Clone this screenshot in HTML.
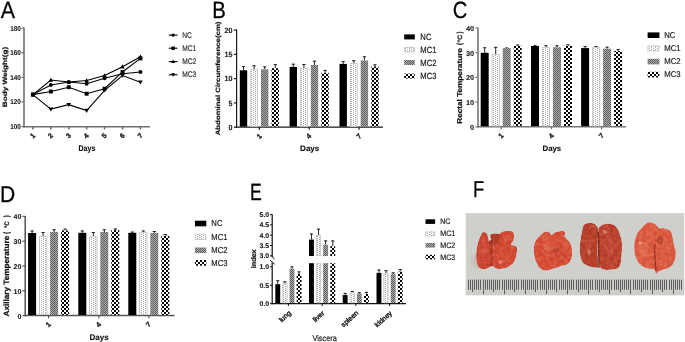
<!DOCTYPE html>
<html><head><meta charset="utf-8"><style>
html,body{margin:0;padding:0;background:#fff;width:685px;height:342px;overflow:hidden}
svg{display:block;-webkit-font-smoothing:antialiased;will-change:transform;text-rendering:geometricPrecision}
</style></head><body>
<svg width="685" height="342" viewBox="0 0 685 342">
<defs>
<filter id="soft" x="-5%" y="-5%" width="110%" height="110%"><feGaussianBlur in="SourceGraphic" stdDeviation="0.5" result="b"/>
<feTurbulence type="fractalNoise" baseFrequency="0.28" numOctaves="2" seed="5" result="n"/>
<feColorMatrix in="n" type="matrix" values="1 0 0 0 0  1 0 0 0 0  1 0 0 0 0  0 0 0 0 1" result="g"/>
<feComponentTransfer in="g" result="g2"><feFuncR type="linear" slope="0.5" intercept="0.26"/><feFuncG type="linear" slope="0.5" intercept="0.26"/><feFuncB type="linear" slope="0.5" intercept="0.26"/></feComponentTransfer>
<feBlend in="g2" in2="b" mode="soft-light" result="m"/>
<feComposite in="m" in2="b" operator="in"/></filter>
<filter id="blur2" x="-50%" y="-50%" width="200%" height="200%"><feGaussianBlur stdDeviation="2.5"/></filter>
<pattern id="p1" width="4" height="2" patternUnits="userSpaceOnUse">
<rect width="4" height="2" fill="#fff"/>
<rect x="1" y="0" width="1" height="1" fill="#a4a4a4"/>
<rect x="3" y="1" width="1" height="1" fill="#a4a4a4"/>
</pattern>
<pattern id="p2" width="2" height="2" patternUnits="userSpaceOnUse">
<rect width="2" height="2" fill="#acacac"/>
<rect x="0" y="0" width="1" height="1" fill="#5e5e5e"/>
<rect x="1" y="1" width="1" height="1" fill="#5e5e5e"/>
</pattern>
<pattern id="p3" width="4" height="4" patternUnits="userSpaceOnUse">
<rect width="4" height="4" fill="#fff"/>
<rect x="0" y="0" width="2" height="2" fill="#000"/>
<rect x="2" y="2" width="2" height="2" fill="#000"/>
</pattern>
</defs>
<rect width="685" height="342" fill="#fff"/>
<g font-family='"Liberation Sans", sans-serif'>
<text transform="translate(0.66 18) scale(0.911 1)" font-size="23.5" fill="#000" stroke="#000" stroke-width="0.25">A</text>
<text transform="translate(212.33 18) scale(0.864 1)" font-size="23.5" fill="#000" stroke="#000" stroke-width="0.25">B</text>
<text transform="translate(452.87 18) scale(0.86 1)" font-size="23.5" fill="#000" stroke="#000" stroke-width="0.25">C</text>
<text transform="translate(-0.03 202) scale(0.924 1)" font-size="22.8" fill="#000" stroke="#000" stroke-width="0.25">D</text>
<text transform="translate(250.0 200) scale(0.75 1)" font-size="23.5" fill="#000" stroke="#000" stroke-width="0.25">E</text>
<text transform="translate(472.9 197) scale(0.8 1)" font-size="23" fill="#000" stroke="#000" stroke-width="0.25">F</text>
<line x1="24.00" y1="27.50" x2="24.00" y2="127.40" stroke="#707070" stroke-width="1.6"/>
<line x1="23.20" y1="126.80" x2="150.00" y2="126.80" stroke="#707070" stroke-width="1.6"/>
<line x1="21.50" y1="126.60" x2="24.00" y2="126.60" stroke="#707070" stroke-width="1.3"/>
<text transform="translate(10.23 129) scale(0.910 1)" font-size="7.00" font-weight="bold" fill="#222" stroke="#222" stroke-width="0.12">100</text>
<line x1="21.50" y1="101.98" x2="24.00" y2="101.98" stroke="#707070" stroke-width="1.3"/>
<text transform="translate(10.23 104) scale(0.910 1)" font-size="7.00" font-weight="bold" fill="#222" stroke="#222" stroke-width="0.12">120</text>
<line x1="21.50" y1="77.36" x2="24.00" y2="77.36" stroke="#707070" stroke-width="1.3"/>
<text transform="translate(10.23 80) scale(0.910 1)" font-size="7.00" font-weight="bold" fill="#222" stroke="#222" stroke-width="0.12">140</text>
<line x1="21.50" y1="52.74" x2="24.00" y2="52.74" stroke="#707070" stroke-width="1.3"/>
<text transform="translate(10.23 55) scale(0.910 1)" font-size="7.00" font-weight="bold" fill="#222" stroke="#222" stroke-width="0.12">160</text>
<line x1="21.50" y1="28.12" x2="24.00" y2="28.12" stroke="#707070" stroke-width="1.3"/>
<text transform="translate(10.23 31) scale(0.910 1)" font-size="7.00" font-weight="bold" fill="#222" stroke="#222" stroke-width="0.12">180</text>
<line x1="32.90" y1="126.60" x2="32.90" y2="129.40" stroke="#707070" stroke-width="1.6"/>
<text transform="translate(35.50 136.20) rotate(-45) translate(-3.70 0)" font-size="7.00" font-weight="bold" fill="#222" stroke="#222" stroke-width="0.35">1</text>
<line x1="50.82" y1="126.60" x2="50.82" y2="129.40" stroke="#707070" stroke-width="1.6"/>
<text transform="translate(53.42 136.20) rotate(-45) translate(-3.61 0)" font-size="7.00" font-weight="bold" fill="#222" stroke="#222" stroke-width="0.35">2</text>
<line x1="68.74" y1="126.60" x2="68.74" y2="129.40" stroke="#707070" stroke-width="1.6"/>
<text transform="translate(71.34 136.20) rotate(-45) translate(-3.64 0)" font-size="7.00" font-weight="bold" fill="#222" stroke="#222" stroke-width="0.35">3</text>
<line x1="86.66" y1="126.60" x2="86.66" y2="129.40" stroke="#707070" stroke-width="1.6"/>
<text transform="translate(89.26 136.20) rotate(-45) translate(-3.85 0)" font-size="7.00" font-weight="bold" fill="#222" stroke="#222" stroke-width="0.35">4</text>
<line x1="104.58" y1="126.60" x2="104.58" y2="129.40" stroke="#707070" stroke-width="1.6"/>
<text transform="translate(107.18 136.20) rotate(-45) translate(-3.70 0)" font-size="7.00" font-weight="bold" fill="#222" stroke="#222" stroke-width="0.35">5</text>
<line x1="122.50" y1="126.60" x2="122.50" y2="129.40" stroke="#707070" stroke-width="1.6"/>
<text transform="translate(125.10 136.20) rotate(-45) translate(-3.64 0)" font-size="7.00" font-weight="bold" fill="#222" stroke="#222" stroke-width="0.35">6</text>
<line x1="140.42" y1="126.60" x2="140.42" y2="129.40" stroke="#707070" stroke-width="1.6"/>
<text transform="translate(143.02 136.20) rotate(-45) translate(-3.58 0)" font-size="7.00" font-weight="bold" fill="#222" stroke="#222" stroke-width="0.35">7</text>
<text transform="translate(6.86 107.24) rotate(-90) scale(1 0.766)" font-size="8.23" font-weight="bold" fill="#111" stroke="#111" stroke-width="0.25">Body Weight(g)</text>
<text transform="translate(78.53 151) scale(0.851 1)" font-size="8.28" font-weight="bold" fill="#111" stroke="#111" stroke-width="0.12">Days</text>
<polyline points="32.90,94.59 50.82,84.99 68.74,82.04 86.66,83.76 104.58,78.22 122.50,73.67 140.42,71.94" fill="none" stroke="#000" stroke-width="1.1"/>
<polyline points="32.90,94.59 50.82,91.52 68.74,87.21 86.66,93.73 104.58,88.69 122.50,71.94 140.42,58.40" fill="none" stroke="#000" stroke-width="1.1"/>
<polyline points="32.90,94.59 50.82,79.95 68.74,82.04 86.66,80.56 104.58,75.51 122.50,66.65 140.42,56.68" fill="none" stroke="#000" stroke-width="1.1"/>
<polyline points="32.90,94.59 50.82,109.12 68.74,104.69 86.66,110.60 104.58,90.29 122.50,75.51 140.42,82.28" fill="none" stroke="#000" stroke-width="1.1"/>
<circle cx="32.90" cy="94.59" r="1.95" fill="#000"/>
<circle cx="50.82" cy="84.99" r="1.95" fill="#000"/>
<circle cx="68.74" cy="82.04" r="1.95" fill="#000"/>
<circle cx="86.66" cy="83.76" r="1.95" fill="#000"/>
<circle cx="104.58" cy="78.22" r="1.95" fill="#000"/>
<circle cx="122.50" cy="73.67" r="1.95" fill="#000"/>
<circle cx="140.42" cy="71.94" r="1.95" fill="#000"/>
<rect x="30.95" y="92.64" width="3.91" height="3.91" fill="#000"/>
<rect x="48.87" y="89.56" width="3.91" height="3.91" fill="#000"/>
<rect x="66.79" y="85.25" width="3.91" height="3.91" fill="#000"/>
<rect x="84.70" y="91.78" width="3.91" height="3.91" fill="#000"/>
<rect x="102.63" y="86.73" width="3.91" height="3.91" fill="#000"/>
<rect x="120.55" y="69.99" width="3.91" height="3.91" fill="#000"/>
<rect x="138.47" y="56.45" width="3.91" height="3.91" fill="#000"/>
<polygon points="32.90,92.29 30.60,96.32 35.20,96.32" fill="#000"/>
<polygon points="50.82,77.65 48.52,81.67 53.12,81.67" fill="#000"/>
<polygon points="68.74,79.74 66.44,83.76 71.04,83.76" fill="#000"/>
<polygon points="86.66,78.26 84.36,82.29 88.96,82.29" fill="#000"/>
<polygon points="104.58,73.21 102.28,77.24 106.88,77.24" fill="#000"/>
<polygon points="122.50,64.35 120.20,68.38 124.80,68.38" fill="#000"/>
<polygon points="140.42,54.38 138.12,58.40 142.72,58.40" fill="#000"/>
<polygon points="32.90,96.89 30.60,92.87 35.20,92.87" fill="#000"/>
<polygon points="50.82,111.42 48.52,107.39 53.12,107.39" fill="#000"/>
<polygon points="68.74,106.99 66.44,102.96 71.04,102.96" fill="#000"/>
<polygon points="86.66,112.90 84.36,108.87 88.96,108.87" fill="#000"/>
<polygon points="104.58,92.59 102.28,88.56 106.88,88.56" fill="#000"/>
<polygon points="122.50,77.81 120.20,73.79 124.80,73.79" fill="#000"/>
<polygon points="140.42,84.58 138.12,80.56 142.72,80.56" fill="#000"/>
<line x1="168.80" y1="35.10" x2="177.50" y2="35.10" stroke="#000" stroke-width="1.1"/>
<circle cx="173.10" cy="35.10" r="1.70" fill="#000"/>
<text transform="translate(182.25 38) scale(0.815 1)" font-size="8.17" font-weight="normal" fill="#333" stroke="#333" stroke-width="0.2">NC</text>
<line x1="168.80" y1="48.20" x2="177.50" y2="48.20" stroke="#000" stroke-width="1.1"/>
<rect x="171.40" y="46.50" width="3.40" height="3.40" fill="#000"/>
<text transform="translate(182.25 51) scale(0.815 1)" font-size="8.17" font-weight="normal" fill="#333" stroke="#333" stroke-width="0.2">MC1</text>
<line x1="168.80" y1="61.60" x2="177.50" y2="61.60" stroke="#000" stroke-width="1.1"/>
<polygon points="173.10,59.60 171.10,63.10 175.10,63.10" fill="#000"/>
<text transform="translate(182.25 64) scale(0.815 1)" font-size="8.17" font-weight="normal" fill="#333" stroke="#333" stroke-width="0.2">MC2</text>
<line x1="168.80" y1="74.80" x2="177.50" y2="74.80" stroke="#000" stroke-width="1.1"/>
<polygon points="173.10,76.80 171.10,73.30 175.10,73.30" fill="#000"/>
<text transform="translate(182.25 77) scale(0.815 1)" font-size="8.17" font-weight="normal" fill="#333" stroke="#333" stroke-width="0.2">MC3</text>
<line x1="236.60" y1="29.50" x2="236.60" y2="127.80" stroke="#1a1a1a" stroke-width="1.2"/>
<line x1="235.90" y1="127.20" x2="383.00" y2="127.20" stroke="#1a1a1a" stroke-width="1.2"/>
<line x1="233.90" y1="127.20" x2="236.60" y2="127.20" stroke="#1a1a1a" stroke-width="1.2"/>
<text transform="translate(228.51 130) scale(0.940 1)" font-size="7.60" font-weight="bold" fill="#222" stroke="#222" stroke-width="0.12">0</text>
<line x1="233.90" y1="102.93" x2="236.60" y2="102.93" stroke="#1a1a1a" stroke-width="1.2"/>
<text transform="translate(228.43 106) scale(0.940 1)" font-size="7.60" font-weight="bold" fill="#222" stroke="#222" stroke-width="0.12">5</text>
<line x1="233.90" y1="78.66" x2="236.60" y2="78.66" stroke="#1a1a1a" stroke-width="1.2"/>
<text transform="translate(224.54 81) scale(0.940 1)" font-size="7.60" font-weight="bold" fill="#222" stroke="#222" stroke-width="0.12">10</text>
<line x1="233.90" y1="54.39" x2="236.60" y2="54.39" stroke="#1a1a1a" stroke-width="1.2"/>
<text transform="translate(224.46 57) scale(0.940 1)" font-size="7.60" font-weight="bold" fill="#222" stroke="#222" stroke-width="0.12">15</text>
<line x1="233.90" y1="30.12" x2="236.60" y2="30.12" stroke="#1a1a1a" stroke-width="1.2"/>
<text transform="translate(224.54 33) scale(0.940 1)" font-size="7.60" font-weight="bold" fill="#222" stroke="#222" stroke-width="0.12">20</text>
<line x1="259.40" y1="127.20" x2="259.40" y2="129.80" stroke="#1a1a1a" stroke-width="1.2"/>
<line x1="243.50" y1="66.10" x2="243.50" y2="70.30" stroke="#222" stroke-width="1"/>
<line x1="241.90" y1="66.60" x2="245.10" y2="66.60" stroke="#222" stroke-width="1"/>
<rect x="239.80" y="70.30" width="7.40" height="56.30" fill="#000"/>
<line x1="254.10" y1="65.30" x2="254.10" y2="69.30" stroke="#222" stroke-width="1"/>
<line x1="252.50" y1="65.80" x2="255.70" y2="65.80" stroke="#222" stroke-width="1"/>
<rect x="250.40" y="69.30" width="7.40" height="57.30" fill="url(#p1)"/>
<rect x="250.80" y="69.70" width="6.60" height="56.50" fill="none" stroke="#c4c4c4" stroke-width="0.8"/>
<line x1="264.70" y1="66.40" x2="264.70" y2="69.30" stroke="#222" stroke-width="1"/>
<line x1="263.10" y1="66.90" x2="266.30" y2="66.90" stroke="#222" stroke-width="1"/>
<rect x="261.00" y="69.30" width="7.40" height="57.30" fill="url(#p2)"/>
<line x1="275.30" y1="64.10" x2="275.30" y2="68.20" stroke="#222" stroke-width="1"/>
<line x1="273.70" y1="64.60" x2="276.90" y2="64.60" stroke="#222" stroke-width="1"/>
<rect x="271.60" y="68.20" width="7.40" height="58.40" fill="url(#p3)"/>
<line x1="309.20" y1="127.20" x2="309.20" y2="129.80" stroke="#1a1a1a" stroke-width="1.2"/>
<line x1="293.30" y1="63.70" x2="293.30" y2="66.90" stroke="#222" stroke-width="1"/>
<line x1="291.70" y1="64.20" x2="294.90" y2="64.20" stroke="#222" stroke-width="1"/>
<rect x="289.60" y="66.90" width="7.40" height="59.70" fill="#000"/>
<line x1="303.90" y1="64.00" x2="303.90" y2="68.10" stroke="#222" stroke-width="1"/>
<line x1="302.30" y1="64.50" x2="305.50" y2="64.50" stroke="#222" stroke-width="1"/>
<rect x="300.20" y="68.10" width="7.40" height="58.50" fill="url(#p1)"/>
<rect x="300.60" y="68.50" width="6.60" height="57.70" fill="none" stroke="#c4c4c4" stroke-width="0.8"/>
<line x1="314.50" y1="60.70" x2="314.50" y2="65.00" stroke="#222" stroke-width="1"/>
<line x1="312.90" y1="61.20" x2="316.10" y2="61.20" stroke="#222" stroke-width="1"/>
<rect x="310.80" y="65.00" width="7.40" height="61.60" fill="url(#p2)"/>
<line x1="325.10" y1="69.90" x2="325.10" y2="72.80" stroke="#222" stroke-width="1"/>
<line x1="323.50" y1="70.40" x2="326.70" y2="70.40" stroke="#222" stroke-width="1"/>
<rect x="321.40" y="72.80" width="7.40" height="53.80" fill="url(#p3)"/>
<line x1="359.10" y1="127.20" x2="359.10" y2="129.80" stroke="#1a1a1a" stroke-width="1.2"/>
<line x1="343.20" y1="61.10" x2="343.20" y2="63.90" stroke="#222" stroke-width="1"/>
<line x1="341.60" y1="61.60" x2="344.80" y2="61.60" stroke="#222" stroke-width="1"/>
<rect x="339.50" y="63.90" width="7.40" height="62.70" fill="#000"/>
<line x1="353.80" y1="60.20" x2="353.80" y2="63.10" stroke="#222" stroke-width="1"/>
<line x1="352.20" y1="60.70" x2="355.40" y2="60.70" stroke="#222" stroke-width="1"/>
<rect x="350.10" y="63.10" width="7.40" height="63.50" fill="url(#p1)"/>
<rect x="350.50" y="63.50" width="6.60" height="62.70" fill="none" stroke="#c4c4c4" stroke-width="0.8"/>
<line x1="364.40" y1="56.30" x2="364.40" y2="60.50" stroke="#222" stroke-width="1"/>
<line x1="362.80" y1="56.80" x2="366.00" y2="56.80" stroke="#222" stroke-width="1"/>
<rect x="360.70" y="60.50" width="7.40" height="66.10" fill="url(#p2)"/>
<line x1="375.00" y1="64.30" x2="375.00" y2="66.60" stroke="#222" stroke-width="1"/>
<line x1="373.40" y1="64.80" x2="376.60" y2="64.80" stroke="#222" stroke-width="1"/>
<rect x="371.30" y="66.60" width="7.40" height="60.00" fill="url(#p3)"/>
<text transform="translate(262.00 136.60) rotate(-45) translate(-3.70 0)" font-size="7.00" font-weight="bold" fill="#222" stroke="#222" stroke-width="0.35">1</text>
<text transform="translate(311.80 136.60) rotate(-45) translate(-3.85 0)" font-size="7.00" font-weight="bold" fill="#222" stroke="#222" stroke-width="0.35">4</text>
<text transform="translate(361.70 136.60) rotate(-45) translate(-3.58 0)" font-size="7.00" font-weight="bold" fill="#222" stroke="#222" stroke-width="0.35">7</text>
<text transform="translate(220.31 135.30) rotate(-90) scale(1 0.796)" font-size="7.82" font-weight="bold" fill="#111" stroke="#111" stroke-width="0.25">Abdominal Circumference(cm)</text>
<text transform="translate(300.07 151) scale(1.008 1)" font-size="7.99" font-weight="bold" fill="#111" stroke="#111" stroke-width="0.12">Days</text>
<rect x="404.20" y="34.40" width="10.60" height="5.00" fill="#000"/>
<text transform="translate(420.37 40) scale(0.850 1)" font-size="9.00" font-weight="normal" fill="#222" stroke="#222" stroke-width="0.2">NC</text>
<rect x="404.20" y="47.20" width="10.60" height="5.00" fill="url(#p1)"/>
<rect x="404.60" y="47.60" width="9.80" height="4.20" fill="none" stroke="#c4c4c4" stroke-width="0.8"/>
<text transform="translate(420.37 53) scale(0.850 1)" font-size="9.00" font-weight="normal" fill="#222" stroke="#222" stroke-width="0.2">MC1</text>
<rect x="404.20" y="60.00" width="10.60" height="5.00" fill="url(#p2)"/>
<text transform="translate(420.37 66) scale(0.850 1)" font-size="9.00" font-weight="normal" fill="#222" stroke="#222" stroke-width="0.2">MC2</text>
<rect x="404.20" y="73.60" width="10.60" height="5.00" fill="url(#p3)"/>
<text transform="translate(420.37 79) scale(0.850 1)" font-size="9.00" font-weight="normal" fill="#222" stroke="#222" stroke-width="0.2">MC3</text>
<line x1="478.00" y1="27.50" x2="478.00" y2="127.40" stroke="#777" stroke-width="1.6"/>
<line x1="477.30" y1="126.80" x2="626.00" y2="126.80" stroke="#777" stroke-width="1.6"/>
<line x1="475.30" y1="126.80" x2="478.00" y2="126.80" stroke="#777" stroke-width="1.2"/>
<text transform="translate(470.01 130) scale(1.050 1)" font-size="7.00" font-weight="bold" fill="#222" stroke="#222" stroke-width="0.12">0</text>
<line x1="475.30" y1="102.10" x2="478.00" y2="102.10" stroke="#777" stroke-width="1.2"/>
<text transform="translate(465.92 105) scale(1.050 1)" font-size="7.00" font-weight="bold" fill="#222" stroke="#222" stroke-width="0.12">10</text>
<line x1="475.30" y1="77.40" x2="478.00" y2="77.40" stroke="#777" stroke-width="1.2"/>
<text transform="translate(465.92 80) scale(1.050 1)" font-size="7.00" font-weight="bold" fill="#222" stroke="#222" stroke-width="0.12">20</text>
<line x1="475.30" y1="52.70" x2="478.00" y2="52.70" stroke="#777" stroke-width="1.2"/>
<text transform="translate(465.92 56) scale(1.050 1)" font-size="7.00" font-weight="bold" fill="#222" stroke="#222" stroke-width="0.12">30</text>
<line x1="475.30" y1="28.00" x2="478.00" y2="28.00" stroke="#777" stroke-width="1.2"/>
<text transform="translate(465.92 31) scale(1.050 1)" font-size="7.00" font-weight="bold" fill="#222" stroke="#222" stroke-width="0.12">40</text>
<line x1="501.20" y1="126.80" x2="501.20" y2="129.40" stroke="#777" stroke-width="1.2"/>
<line x1="484.70" y1="47.30" x2="484.70" y2="52.80" stroke="#222" stroke-width="1"/>
<line x1="483.10" y1="47.80" x2="486.30" y2="47.80" stroke="#222" stroke-width="1"/>
<rect x="480.70" y="52.80" width="8.00" height="73.40" fill="#000"/>
<line x1="495.70" y1="46.90" x2="495.70" y2="54.00" stroke="#222" stroke-width="1"/>
<line x1="494.10" y1="47.40" x2="497.30" y2="47.40" stroke="#222" stroke-width="1"/>
<rect x="491.70" y="54.00" width="8.00" height="72.20" fill="url(#p1)"/>
<rect x="492.10" y="54.40" width="7.20" height="71.40" fill="none" stroke="#c4c4c4" stroke-width="0.8"/>
<line x1="506.70" y1="47.50" x2="506.70" y2="48.10" stroke="#222" stroke-width="1"/>
<line x1="505.10" y1="48.00" x2="508.30" y2="48.00" stroke="#222" stroke-width="1"/>
<rect x="502.70" y="48.10" width="8.00" height="78.10" fill="url(#p2)"/>
<line x1="517.70" y1="44.60" x2="517.70" y2="45.80" stroke="#222" stroke-width="1"/>
<line x1="516.10" y1="45.10" x2="519.30" y2="45.10" stroke="#222" stroke-width="1"/>
<rect x="513.70" y="45.80" width="8.00" height="80.40" fill="url(#p3)"/>
<line x1="551.50" y1="126.80" x2="551.50" y2="129.40" stroke="#777" stroke-width="1.2"/>
<line x1="535.00" y1="45.20" x2="535.00" y2="46.00" stroke="#222" stroke-width="1"/>
<line x1="533.40" y1="45.70" x2="536.60" y2="45.70" stroke="#222" stroke-width="1"/>
<rect x="531.00" y="46.00" width="8.00" height="80.20" fill="#000"/>
<line x1="546.00" y1="45.20" x2="546.00" y2="47.30" stroke="#222" stroke-width="1"/>
<line x1="544.40" y1="45.70" x2="547.60" y2="45.70" stroke="#222" stroke-width="1"/>
<rect x="542.00" y="47.30" width="8.00" height="78.90" fill="url(#p1)"/>
<rect x="542.40" y="47.70" width="7.20" height="78.10" fill="none" stroke="#c4c4c4" stroke-width="0.8"/>
<line x1="557.00" y1="45.20" x2="557.00" y2="47.30" stroke="#222" stroke-width="1"/>
<line x1="555.40" y1="45.70" x2="558.60" y2="45.70" stroke="#222" stroke-width="1"/>
<rect x="553.00" y="47.30" width="8.00" height="78.90" fill="url(#p2)"/>
<line x1="568.00" y1="44.30" x2="568.00" y2="45.80" stroke="#222" stroke-width="1"/>
<line x1="566.40" y1="44.80" x2="569.60" y2="44.80" stroke="#222" stroke-width="1"/>
<rect x="564.00" y="45.80" width="8.00" height="80.40" fill="url(#p3)"/>
<line x1="601.60" y1="126.80" x2="601.60" y2="129.40" stroke="#777" stroke-width="1.2"/>
<line x1="585.10" y1="46.00" x2="585.10" y2="48.10" stroke="#222" stroke-width="1"/>
<line x1="583.50" y1="46.50" x2="586.70" y2="46.50" stroke="#222" stroke-width="1"/>
<rect x="581.10" y="48.10" width="8.00" height="78.10" fill="#000"/>
<line x1="596.10" y1="46.00" x2="596.10" y2="47.30" stroke="#222" stroke-width="1"/>
<line x1="594.50" y1="46.50" x2="597.70" y2="46.50" stroke="#222" stroke-width="1"/>
<rect x="592.10" y="47.30" width="8.00" height="78.90" fill="url(#p1)"/>
<rect x="592.50" y="47.70" width="7.20" height="78.10" fill="none" stroke="#c4c4c4" stroke-width="0.8"/>
<line x1="607.10" y1="46.70" x2="607.10" y2="48.70" stroke="#222" stroke-width="1"/>
<line x1="605.50" y1="47.20" x2="608.70" y2="47.20" stroke="#222" stroke-width="1"/>
<rect x="603.10" y="48.70" width="8.00" height="77.50" fill="url(#p2)"/>
<line x1="618.10" y1="49.00" x2="618.10" y2="51.00" stroke="#222" stroke-width="1"/>
<line x1="616.50" y1="49.50" x2="619.70" y2="49.50" stroke="#222" stroke-width="1"/>
<rect x="614.10" y="51.00" width="8.00" height="75.20" fill="url(#p3)"/>
<text transform="translate(503.80 136.20) rotate(-45) translate(-3.70 0)" font-size="7.00" font-weight="bold" fill="#222" stroke="#222" stroke-width="0.35">1</text>
<text transform="translate(554.10 136.20) rotate(-45) translate(-3.85 0)" font-size="7.00" font-weight="bold" fill="#222" stroke="#222" stroke-width="0.35">4</text>
<text transform="translate(604.20 136.20) rotate(-45) translate(-3.58 0)" font-size="7.00" font-weight="bold" fill="#222" stroke="#222" stroke-width="0.35">7</text>
<text transform="translate(461.53 123.64) rotate(-90) scale(1 0.866)" font-size="8.18" font-weight="bold" fill="#111" stroke="#111" stroke-width="0.25">Rectal Temperature</text>
<text transform="translate(461.53 45.01) rotate(-90) scale(0.750 0.910)" font-size="8.18" font-weight="bold" fill="#111" stroke="#111" stroke-width="0.25">(</text>
<text transform="translate(461.53 42.39) rotate(-90) scale(0.820 0.780)" font-size="8.18" font-weight="bold" fill="#111" stroke="#111" stroke-width="0.25">°C</text>
<text transform="translate(461.53 33.51) rotate(-90) scale(0.750 0.910)" font-size="8.18" font-weight="bold" fill="#111" stroke="#111" stroke-width="0.25">)</text>
<text transform="translate(542.48 151) scale(0.980 1)" font-size="7.99" font-weight="bold" fill="#111" stroke="#111" stroke-width="0.12">Days</text>
<rect x="647.60" y="32.40" width="11.80" height="5.60" fill="#000"/>
<text transform="translate(664.26 38) scale(0.920 1)" font-size="8.45" font-weight="normal" fill="#222" stroke="#222" stroke-width="0.2">NC</text>
<rect x="647.60" y="45.60" width="11.80" height="5.60" fill="url(#p1)"/>
<rect x="648.00" y="46.00" width="11.00" height="4.80" fill="none" stroke="#c4c4c4" stroke-width="0.8"/>
<text transform="translate(664.26 51) scale(0.920 1)" font-size="8.45" font-weight="normal" fill="#222" stroke="#222" stroke-width="0.2">MC1</text>
<rect x="647.60" y="58.80" width="11.80" height="5.60" fill="url(#p2)"/>
<text transform="translate(664.26 64) scale(0.920 1)" font-size="8.45" font-weight="normal" fill="#222" stroke="#222" stroke-width="0.2">MC2</text>
<rect x="647.60" y="71.80" width="11.80" height="5.60" fill="url(#p3)"/>
<text transform="translate(664.26 77) scale(0.920 1)" font-size="8.45" font-weight="normal" fill="#222" stroke="#222" stroke-width="0.2">MC3</text>
<line x1="25.20" y1="216.00" x2="25.20" y2="316.20" stroke="#555" stroke-width="1.5"/>
<line x1="24.50" y1="315.60" x2="174.50" y2="315.60" stroke="#555" stroke-width="1.5"/>
<line x1="22.50" y1="315.60" x2="25.20" y2="315.60" stroke="#555" stroke-width="1.2"/>
<text transform="translate(17.39 319) scale(1.000 1)" font-size="7.00" font-weight="bold" fill="#222" stroke="#222" stroke-width="0.12">0</text>
<line x1="22.50" y1="290.80" x2="25.20" y2="290.80" stroke="#555" stroke-width="1.2"/>
<text transform="translate(13.50 294) scale(1.000 1)" font-size="7.00" font-weight="bold" fill="#222" stroke="#222" stroke-width="0.12">10</text>
<line x1="22.50" y1="266.00" x2="25.20" y2="266.00" stroke="#555" stroke-width="1.2"/>
<text transform="translate(13.50 269) scale(1.000 1)" font-size="7.00" font-weight="bold" fill="#222" stroke="#222" stroke-width="0.12">20</text>
<line x1="22.50" y1="241.20" x2="25.20" y2="241.20" stroke="#555" stroke-width="1.2"/>
<text transform="translate(13.50 244) scale(1.000 1)" font-size="7.00" font-weight="bold" fill="#222" stroke="#222" stroke-width="0.12">30</text>
<line x1="22.50" y1="216.40" x2="25.20" y2="216.40" stroke="#555" stroke-width="1.2"/>
<text transform="translate(13.50 219) scale(1.000 1)" font-size="7.00" font-weight="bold" fill="#222" stroke="#222" stroke-width="0.12">40</text>
<line x1="48.60" y1="315.60" x2="48.60" y2="318.20" stroke="#555" stroke-width="1.2"/>
<line x1="32.10" y1="230.50" x2="32.10" y2="233.00" stroke="#222" stroke-width="1"/>
<line x1="30.50" y1="231.00" x2="33.70" y2="231.00" stroke="#222" stroke-width="1"/>
<rect x="28.10" y="233.00" width="8.00" height="82.00" fill="#000"/>
<line x1="43.10" y1="232.00" x2="43.10" y2="236.30" stroke="#222" stroke-width="1"/>
<line x1="41.50" y1="232.50" x2="44.70" y2="232.50" stroke="#222" stroke-width="1"/>
<rect x="39.10" y="236.30" width="8.00" height="78.70" fill="url(#p1)"/>
<rect x="39.50" y="236.70" width="7.20" height="77.90" fill="none" stroke="#c4c4c4" stroke-width="0.8"/>
<line x1="54.10" y1="229.30" x2="54.10" y2="232.00" stroke="#222" stroke-width="1"/>
<line x1="52.50" y1="229.80" x2="55.70" y2="229.80" stroke="#222" stroke-width="1"/>
<rect x="50.10" y="232.00" width="8.00" height="83.00" fill="url(#p2)"/>
<line x1="65.10" y1="228.70" x2="65.10" y2="230.50" stroke="#222" stroke-width="1"/>
<line x1="63.50" y1="229.20" x2="66.70" y2="229.20" stroke="#222" stroke-width="1"/>
<rect x="61.10" y="230.50" width="8.00" height="84.50" fill="url(#p3)"/>
<line x1="98.80" y1="315.60" x2="98.80" y2="318.20" stroke="#555" stroke-width="1.2"/>
<line x1="82.30" y1="230.50" x2="82.30" y2="232.80" stroke="#222" stroke-width="1"/>
<line x1="80.70" y1="231.00" x2="83.90" y2="231.00" stroke="#222" stroke-width="1"/>
<rect x="78.30" y="232.80" width="8.00" height="82.20" fill="#000"/>
<line x1="93.30" y1="232.00" x2="93.30" y2="236.30" stroke="#222" stroke-width="1"/>
<line x1="91.70" y1="232.50" x2="94.90" y2="232.50" stroke="#222" stroke-width="1"/>
<rect x="89.30" y="236.30" width="8.00" height="78.70" fill="url(#p1)"/>
<rect x="89.70" y="236.70" width="7.20" height="77.90" fill="none" stroke="#c4c4c4" stroke-width="0.8"/>
<line x1="104.30" y1="229.30" x2="104.30" y2="232.00" stroke="#222" stroke-width="1"/>
<line x1="102.70" y1="229.80" x2="105.90" y2="229.80" stroke="#222" stroke-width="1"/>
<rect x="100.30" y="232.00" width="8.00" height="83.00" fill="url(#p2)"/>
<line x1="115.30" y1="228.50" x2="115.30" y2="230.10" stroke="#222" stroke-width="1"/>
<line x1="113.70" y1="229.00" x2="116.90" y2="229.00" stroke="#222" stroke-width="1"/>
<rect x="111.30" y="230.10" width="8.00" height="84.90" fill="url(#p3)"/>
<line x1="148.80" y1="315.60" x2="148.80" y2="318.20" stroke="#555" stroke-width="1.2"/>
<line x1="132.30" y1="231.60" x2="132.30" y2="232.80" stroke="#222" stroke-width="1"/>
<line x1="130.70" y1="232.10" x2="133.90" y2="232.10" stroke="#222" stroke-width="1"/>
<rect x="128.30" y="232.80" width="8.00" height="82.20" fill="#000"/>
<line x1="143.30" y1="230.50" x2="143.30" y2="232.00" stroke="#222" stroke-width="1"/>
<line x1="141.70" y1="231.00" x2="144.90" y2="231.00" stroke="#222" stroke-width="1"/>
<rect x="139.30" y="232.00" width="8.00" height="83.00" fill="url(#p1)"/>
<rect x="139.70" y="232.40" width="7.20" height="82.20" fill="none" stroke="#c4c4c4" stroke-width="0.8"/>
<line x1="154.30" y1="231.00" x2="154.30" y2="233.00" stroke="#222" stroke-width="1"/>
<line x1="152.70" y1="231.50" x2="155.90" y2="231.50" stroke="#222" stroke-width="1"/>
<rect x="150.30" y="233.00" width="8.00" height="82.00" fill="url(#p2)"/>
<line x1="165.30" y1="234.00" x2="165.30" y2="235.70" stroke="#222" stroke-width="1"/>
<line x1="163.70" y1="234.50" x2="166.90" y2="234.50" stroke="#222" stroke-width="1"/>
<rect x="161.30" y="235.70" width="8.00" height="79.30" fill="url(#p3)"/>
<text transform="translate(51.20 325.00) rotate(-45) translate(-3.70 0)" font-size="7.00" font-weight="bold" fill="#222" stroke="#222" stroke-width="0.35">1</text>
<text transform="translate(101.40 325.00) rotate(-45) translate(-3.85 0)" font-size="7.00" font-weight="bold" fill="#222" stroke="#222" stroke-width="0.35">4</text>
<text transform="translate(151.40 325.00) rotate(-45) translate(-3.58 0)" font-size="7.00" font-weight="bold" fill="#222" stroke="#222" stroke-width="0.35">7</text>
<text transform="translate(8.69 316.51) rotate(-90) scale(1 0.943)" font-size="8.19" font-weight="bold" fill="#111" stroke="#111" stroke-width="0.25">Axillary Temperature</text>
<text transform="translate(8.69 233.69) rotate(-90) scale(0.700 0.943)" font-size="8.19" font-weight="bold" fill="#111" stroke="#111" stroke-width="0.25">(</text>
<text transform="translate(8.69 228.17) rotate(-90) scale(0.750 0.802)" font-size="8.19" font-weight="bold" fill="#111" stroke="#111" stroke-width="0.25">°C</text>
<text transform="translate(8.69 217.21) rotate(-90) scale(0.700 0.943)" font-size="8.19" font-weight="bold" fill="#111" stroke="#111" stroke-width="0.25">)</text>
<text transform="translate(89.47 340) scale(0.984 1)" font-size="8.14" font-weight="bold" fill="#111" stroke="#111" stroke-width="0.12">Days</text>
<rect x="194.90" y="220.70" width="11.40" height="5.60" fill="#000"/>
<text transform="translate(211.37 226) scale(0.880 1)" font-size="8.70" font-weight="normal" fill="#222" stroke="#222" stroke-width="0.2">NC</text>
<rect x="194.90" y="234.30" width="11.40" height="5.60" fill="url(#p1)"/>
<rect x="195.30" y="234.70" width="10.60" height="4.80" fill="none" stroke="#c4c4c4" stroke-width="0.8"/>
<text transform="translate(211.37 240) scale(0.880 1)" font-size="8.70" font-weight="normal" fill="#222" stroke="#222" stroke-width="0.2">MC1</text>
<rect x="194.90" y="247.50" width="11.40" height="5.60" fill="url(#p2)"/>
<text transform="translate(211.37 253) scale(0.880 1)" font-size="8.70" font-weight="normal" fill="#222" stroke="#222" stroke-width="0.2">MC2</text>
<rect x="194.90" y="260.10" width="11.40" height="5.60" fill="url(#p3)"/>
<text transform="translate(211.37 266) scale(0.880 1)" font-size="8.70" font-weight="normal" fill="#222" stroke="#222" stroke-width="0.2">MC3</text>
<line x1="272.20" y1="214.30" x2="272.20" y2="257.20" stroke="#111" stroke-width="1.2"/>
<line x1="272.20" y1="262.20" x2="272.20" y2="304.30" stroke="#111" stroke-width="1.2"/>
<line x1="271.40" y1="255.80" x2="274.60" y2="258.90" stroke="#111" stroke-width="1.0"/>
<line x1="270.30" y1="260.30" x2="274.80" y2="264.30" stroke="#111" stroke-width="1.0"/>
<line x1="271.60" y1="303.70" x2="406.00" y2="303.70" stroke="#111" stroke-width="1.2"/>
<line x1="270.00" y1="255.80" x2="272.20" y2="255.80" stroke="#111" stroke-width="1.0"/>
<text transform="translate(259.54 258) scale(1.020 1)" font-size="6.80" font-weight="bold" fill="#222" stroke="#222" stroke-width="0.12">3.0</text>
<line x1="270.00" y1="245.50" x2="272.20" y2="245.50" stroke="#111" stroke-width="1.0"/>
<text transform="translate(259.45 248) scale(1.020 1)" font-size="6.80" font-weight="bold" fill="#222" stroke="#222" stroke-width="0.12">3.5</text>
<line x1="270.00" y1="235.20" x2="272.20" y2="235.20" stroke="#111" stroke-width="1.0"/>
<text transform="translate(259.54 238) scale(1.020 1)" font-size="6.80" font-weight="bold" fill="#222" stroke="#222" stroke-width="0.12">4.0</text>
<line x1="270.00" y1="224.90" x2="272.20" y2="224.90" stroke="#111" stroke-width="1.0"/>
<text transform="translate(259.45 227) scale(1.020 1)" font-size="6.80" font-weight="bold" fill="#222" stroke="#222" stroke-width="0.12">4.5</text>
<line x1="270.00" y1="214.60" x2="272.20" y2="214.60" stroke="#111" stroke-width="1.0"/>
<text transform="translate(259.54 217) scale(1.020 1)" font-size="6.80" font-weight="bold" fill="#222" stroke="#222" stroke-width="0.12">5.0</text>
<line x1="270.00" y1="303.70" x2="272.20" y2="303.70" stroke="#111" stroke-width="1.0"/>
<text transform="translate(259.54 306) scale(1.020 1)" font-size="6.80" font-weight="bold" fill="#222" stroke="#222" stroke-width="0.12">0.0</text>
<line x1="270.00" y1="285.25" x2="272.20" y2="285.25" stroke="#111" stroke-width="1.0"/>
<text transform="translate(259.45 288) scale(1.020 1)" font-size="6.80" font-weight="bold" fill="#222" stroke="#222" stroke-width="0.12">0.5</text>
<line x1="270.00" y1="266.80" x2="272.20" y2="266.80" stroke="#111" stroke-width="1.0"/>
<text transform="translate(259.54 269) scale(1.020 1)" font-size="6.80" font-weight="bold" fill="#222" stroke="#222" stroke-width="0.12">1.0</text>
<text transform="translate(256.23 268.31) rotate(-90) scale(1 0.938)" font-size="7.26" font-weight="bold" fill="#111" stroke="#111" stroke-width="0.25">index</text>
<line x1="288.40" y1="303.70" x2="288.40" y2="305.90" stroke="#111" stroke-width="1.0"/>
<text transform="translate(291.20 313.90) rotate(-42) translate(-12.78 0)" font-size="7.00" font-weight="normal" fill="#111" stroke="#111" stroke-width="0.35">lung</text>
<line x1="277.75" y1="280.20" x2="277.75" y2="284.20" stroke="#222" stroke-width="1"/>
<line x1="276.15" y1="280.70" x2="279.35" y2="280.70" stroke="#222" stroke-width="1"/>
<rect x="275.30" y="284.20" width="4.90" height="18.90" fill="#000"/>
<line x1="284.85" y1="281.30" x2="284.85" y2="283.30" stroke="#222" stroke-width="1"/>
<line x1="283.25" y1="281.80" x2="286.45" y2="281.80" stroke="#222" stroke-width="1"/>
<rect x="282.40" y="283.30" width="4.90" height="19.80" fill="url(#p1)"/>
<rect x="282.80" y="283.70" width="4.10" height="19.00" fill="none" stroke="#c4c4c4" stroke-width="0.8"/>
<line x1="291.95" y1="266.40" x2="291.95" y2="268.70" stroke="#222" stroke-width="1"/>
<line x1="290.35" y1="266.90" x2="293.55" y2="266.90" stroke="#222" stroke-width="1"/>
<rect x="289.50" y="268.70" width="4.90" height="34.40" fill="url(#p2)"/>
<line x1="299.05" y1="271.40" x2="299.05" y2="274.00" stroke="#222" stroke-width="1"/>
<line x1="297.45" y1="271.90" x2="300.65" y2="271.90" stroke="#222" stroke-width="1"/>
<rect x="296.60" y="274.00" width="4.90" height="29.10" fill="url(#p3)"/>
<line x1="322.10" y1="303.70" x2="322.10" y2="305.90" stroke="#111" stroke-width="1.0"/>
<text transform="translate(324.90 313.90) rotate(-42) translate(-12.71 0)" font-size="7.00" font-weight="normal" fill="#111" stroke="#111" stroke-width="0.35">liver</text>
<line x1="311.45" y1="233.50" x2="311.45" y2="239.60" stroke="#222" stroke-width="1"/>
<line x1="309.85" y1="234.00" x2="313.05" y2="234.00" stroke="#222" stroke-width="1"/>
<rect x="309.00" y="239.60" width="4.90" height="16.40" fill="#000"/>
<rect x="309.00" y="263.20" width="4.90" height="39.90" fill="#000"/>
<line x1="318.55" y1="228.70" x2="318.55" y2="235.20" stroke="#222" stroke-width="1"/>
<line x1="316.95" y1="229.20" x2="320.15" y2="229.20" stroke="#222" stroke-width="1"/>
<rect x="316.10" y="235.20" width="4.90" height="20.80" fill="url(#p1)"/>
<rect x="316.50" y="235.60" width="4.10" height="20.00" fill="none" stroke="#c4c4c4" stroke-width="0.8"/>
<rect x="316.10" y="263.20" width="4.90" height="39.90" fill="url(#p1)"/>
<rect x="316.50" y="263.60" width="4.10" height="39.10" fill="none" stroke="#c4c4c4" stroke-width="0.8"/>
<line x1="325.65" y1="240.40" x2="325.65" y2="244.70" stroke="#222" stroke-width="1"/>
<line x1="324.05" y1="240.90" x2="327.25" y2="240.90" stroke="#222" stroke-width="1"/>
<rect x="323.20" y="244.70" width="4.90" height="11.30" fill="url(#p2)"/>
<rect x="323.20" y="263.20" width="4.90" height="39.90" fill="url(#p2)"/>
<line x1="332.75" y1="240.40" x2="332.75" y2="246.20" stroke="#222" stroke-width="1"/>
<line x1="331.15" y1="240.90" x2="334.35" y2="240.90" stroke="#222" stroke-width="1"/>
<rect x="330.30" y="246.20" width="4.90" height="9.80" fill="url(#p3)"/>
<rect x="330.30" y="263.20" width="4.90" height="39.90" fill="url(#p3)"/>
<line x1="355.80" y1="303.70" x2="355.80" y2="305.90" stroke="#111" stroke-width="1.0"/>
<text transform="translate(358.60 313.90) rotate(-42) translate(-20.17 0)" font-size="7.00" font-weight="normal" fill="#111" stroke="#111" stroke-width="0.35">spleen</text>
<line x1="345.15" y1="292.90" x2="345.15" y2="295.10" stroke="#222" stroke-width="1"/>
<line x1="343.55" y1="293.40" x2="346.75" y2="293.40" stroke="#222" stroke-width="1"/>
<rect x="342.70" y="295.10" width="4.90" height="8.00" fill="#000"/>
<line x1="352.25" y1="291.00" x2="352.25" y2="292.50" stroke="#222" stroke-width="1"/>
<line x1="350.65" y1="291.50" x2="353.85" y2="291.50" stroke="#222" stroke-width="1"/>
<rect x="349.80" y="292.50" width="4.90" height="10.60" fill="url(#p1)"/>
<rect x="350.20" y="292.90" width="4.10" height="9.80" fill="none" stroke="#c4c4c4" stroke-width="0.8"/>
<line x1="359.35" y1="292.20" x2="359.35" y2="293.60" stroke="#222" stroke-width="1"/>
<line x1="357.75" y1="292.70" x2="360.95" y2="292.70" stroke="#222" stroke-width="1"/>
<rect x="356.90" y="293.60" width="4.90" height="9.50" fill="url(#p2)"/>
<line x1="366.45" y1="291.90" x2="366.45" y2="293.90" stroke="#222" stroke-width="1"/>
<line x1="364.85" y1="292.40" x2="368.05" y2="292.40" stroke="#222" stroke-width="1"/>
<rect x="364.00" y="293.90" width="4.90" height="9.20" fill="url(#p3)"/>
<line x1="389.60" y1="303.70" x2="389.60" y2="305.90" stroke="#111" stroke-width="1.0"/>
<text transform="translate(392.40 313.90) rotate(-42) translate(-20.22 0)" font-size="7.00" font-weight="normal" fill="#111" stroke="#111" stroke-width="0.35">kidney</text>
<line x1="378.95" y1="269.50" x2="378.95" y2="272.90" stroke="#222" stroke-width="1"/>
<line x1="377.35" y1="270.00" x2="380.55" y2="270.00" stroke="#222" stroke-width="1"/>
<rect x="376.50" y="272.90" width="4.90" height="30.20" fill="#000"/>
<line x1="386.05" y1="270.20" x2="386.05" y2="273.50" stroke="#222" stroke-width="1"/>
<line x1="384.45" y1="270.70" x2="387.65" y2="270.70" stroke="#222" stroke-width="1"/>
<rect x="383.60" y="273.50" width="4.90" height="29.60" fill="url(#p1)"/>
<rect x="384.00" y="273.90" width="4.10" height="28.80" fill="none" stroke="#c4c4c4" stroke-width="0.8"/>
<line x1="393.15" y1="272.40" x2="393.15" y2="274.20" stroke="#222" stroke-width="1"/>
<line x1="391.55" y1="272.90" x2="394.75" y2="272.90" stroke="#222" stroke-width="1"/>
<rect x="390.70" y="274.20" width="4.90" height="28.90" fill="url(#p2)"/>
<line x1="400.25" y1="269.10" x2="400.25" y2="271.70" stroke="#222" stroke-width="1"/>
<line x1="398.65" y1="269.60" x2="401.85" y2="269.60" stroke="#222" stroke-width="1"/>
<rect x="397.80" y="271.70" width="4.90" height="31.40" fill="url(#p3)"/>
<text transform="translate(312.45 341) scale(0.900 1)" font-size="8.20" font-weight="normal" fill="#222" stroke="#222" stroke-width="0.2">Viscera</text>
<rect x="425.50" y="219.30" width="9.60" height="4.60" fill="#000"/>
<text transform="translate(440.22 224) scale(0.900 1)" font-size="7.90" font-weight="normal" fill="#222" stroke="#222" stroke-width="0.2">NC</text>
<rect x="425.50" y="231.60" width="9.60" height="4.60" fill="url(#p1)"/>
<rect x="425.90" y="232.00" width="8.80" height="3.80" fill="none" stroke="#c4c4c4" stroke-width="0.8"/>
<text transform="translate(440.22 236) scale(0.900 1)" font-size="7.90" font-weight="normal" fill="#222" stroke="#222" stroke-width="0.2">MC1</text>
<rect x="425.50" y="243.00" width="9.60" height="4.60" fill="url(#p2)"/>
<text transform="translate(440.22 248) scale(0.900 1)" font-size="7.90" font-weight="normal" fill="#222" stroke="#222" stroke-width="0.2">MC2</text>
<rect x="425.50" y="254.80" width="9.60" height="4.60" fill="url(#p3)"/>
<text transform="translate(440.22 260) scale(0.900 1)" font-size="7.90" font-weight="normal" fill="#222" stroke="#222" stroke-width="0.2">MC3</text>
<rect x="465.8" y="213" width="218.4" height="82.2" fill="#cfd0cb"/>
<rect x="465.8" y="213" width="218.4" height="1" fill="#d4d4d0"/>
<rect x="465.8" y="279.3" width="218.4" height="15.9" fill="#cdcdca"/>
<g><line x1="468.50" y1="279.6" x2="468.50" y2="289.8" stroke="#505050" stroke-width="0.9"/><line x1="470.50" y1="279.6" x2="470.50" y2="289.8" stroke="#505050" stroke-width="0.9"/><line x1="472.50" y1="279.6" x2="472.50" y2="292.0" stroke="#505050" stroke-width="0.9"/><line x1="474.50" y1="279.6" x2="474.50" y2="289.8" stroke="#505050" stroke-width="0.9"/><line x1="476.50" y1="279.6" x2="476.50" y2="289.8" stroke="#505050" stroke-width="0.9"/><line x1="478.50" y1="279.6" x2="478.50" y2="289.8" stroke="#505050" stroke-width="0.9"/><line x1="480.50" y1="279.6" x2="480.50" y2="289.8" stroke="#505050" stroke-width="0.9"/><line x1="483.50" y1="279.6" x2="483.50" y2="294.2" stroke="#505050" stroke-width="0.9"/><line x1="485.50" y1="279.6" x2="485.50" y2="289.8" stroke="#505050" stroke-width="0.9"/><line x1="487.50" y1="279.6" x2="487.50" y2="289.8" stroke="#505050" stroke-width="0.9"/><line x1="489.50" y1="279.6" x2="489.50" y2="289.8" stroke="#505050" stroke-width="0.9"/><line x1="491.50" y1="279.6" x2="491.50" y2="289.8" stroke="#505050" stroke-width="0.9"/><line x1="493.50" y1="279.6" x2="493.50" y2="292.0" stroke="#505050" stroke-width="0.9"/><line x1="495.50" y1="279.6" x2="495.50" y2="289.8" stroke="#505050" stroke-width="0.9"/><line x1="497.50" y1="279.6" x2="497.50" y2="289.8" stroke="#505050" stroke-width="0.9"/><line x1="499.50" y1="279.6" x2="499.50" y2="289.8" stroke="#505050" stroke-width="0.9"/><line x1="502.50" y1="279.6" x2="502.50" y2="289.8" stroke="#505050" stroke-width="0.9"/><line x1="504.50" y1="279.6" x2="504.50" y2="294.2" stroke="#505050" stroke-width="0.9"/><line x1="506.50" y1="279.6" x2="506.50" y2="289.8" stroke="#505050" stroke-width="0.9"/><line x1="508.50" y1="279.6" x2="508.50" y2="289.8" stroke="#505050" stroke-width="0.9"/><line x1="510.50" y1="279.6" x2="510.50" y2="289.8" stroke="#505050" stroke-width="0.9"/><line x1="512.50" y1="279.6" x2="512.50" y2="289.8" stroke="#505050" stroke-width="0.9"/><line x1="514.50" y1="279.6" x2="514.50" y2="292.0" stroke="#505050" stroke-width="0.9"/><line x1="516.50" y1="279.6" x2="516.50" y2="289.8" stroke="#505050" stroke-width="0.9"/><line x1="518.50" y1="279.6" x2="518.50" y2="289.8" stroke="#505050" stroke-width="0.9"/><line x1="521.50" y1="279.6" x2="521.50" y2="289.8" stroke="#505050" stroke-width="0.9"/><line x1="523.50" y1="279.6" x2="523.50" y2="289.8" stroke="#505050" stroke-width="0.9"/><line x1="525.50" y1="279.6" x2="525.50" y2="294.2" stroke="#505050" stroke-width="0.9"/><line x1="527.50" y1="279.6" x2="527.50" y2="289.8" stroke="#505050" stroke-width="0.9"/><line x1="529.50" y1="279.6" x2="529.50" y2="289.8" stroke="#505050" stroke-width="0.9"/><line x1="531.50" y1="279.6" x2="531.50" y2="289.8" stroke="#505050" stroke-width="0.9"/><line x1="533.50" y1="279.6" x2="533.50" y2="289.8" stroke="#505050" stroke-width="0.9"/><line x1="535.50" y1="279.6" x2="535.50" y2="292.0" stroke="#505050" stroke-width="0.9"/><line x1="537.50" y1="279.6" x2="537.50" y2="289.8" stroke="#505050" stroke-width="0.9"/><line x1="540.50" y1="279.6" x2="540.50" y2="289.8" stroke="#505050" stroke-width="0.9"/><line x1="542.50" y1="279.6" x2="542.50" y2="289.8" stroke="#505050" stroke-width="0.9"/><line x1="544.50" y1="279.6" x2="544.50" y2="289.8" stroke="#505050" stroke-width="0.9"/><line x1="546.50" y1="279.6" x2="546.50" y2="294.2" stroke="#505050" stroke-width="0.9"/><line x1="548.50" y1="279.6" x2="548.50" y2="289.8" stroke="#505050" stroke-width="0.9"/><line x1="550.50" y1="279.6" x2="550.50" y2="289.8" stroke="#505050" stroke-width="0.9"/><line x1="552.50" y1="279.6" x2="552.50" y2="289.8" stroke="#505050" stroke-width="0.9"/><line x1="554.50" y1="279.6" x2="554.50" y2="289.8" stroke="#505050" stroke-width="0.9"/><line x1="556.50" y1="279.6" x2="556.50" y2="292.0" stroke="#505050" stroke-width="0.9"/><line x1="559.50" y1="279.6" x2="559.50" y2="289.8" stroke="#505050" stroke-width="0.9"/><line x1="561.50" y1="279.6" x2="561.50" y2="289.8" stroke="#505050" stroke-width="0.9"/><line x1="563.50" y1="279.6" x2="563.50" y2="289.8" stroke="#505050" stroke-width="0.9"/><line x1="565.50" y1="279.6" x2="565.50" y2="289.8" stroke="#505050" stroke-width="0.9"/><line x1="567.50" y1="279.6" x2="567.50" y2="294.2" stroke="#505050" stroke-width="0.9"/><line x1="569.50" y1="279.6" x2="569.50" y2="289.8" stroke="#505050" stroke-width="0.9"/><line x1="571.50" y1="279.6" x2="571.50" y2="289.8" stroke="#505050" stroke-width="0.9"/><line x1="573.50" y1="279.6" x2="573.50" y2="289.8" stroke="#505050" stroke-width="0.9"/><line x1="576.50" y1="279.6" x2="576.50" y2="289.8" stroke="#505050" stroke-width="0.9"/><line x1="578.50" y1="279.6" x2="578.50" y2="292.0" stroke="#505050" stroke-width="0.9"/><line x1="580.50" y1="279.6" x2="580.50" y2="289.8" stroke="#505050" stroke-width="0.9"/><line x1="582.50" y1="279.6" x2="582.50" y2="289.8" stroke="#505050" stroke-width="0.9"/><line x1="584.50" y1="279.6" x2="584.50" y2="289.8" stroke="#505050" stroke-width="0.9"/><line x1="586.50" y1="279.6" x2="586.50" y2="289.8" stroke="#505050" stroke-width="0.9"/><line x1="588.50" y1="279.6" x2="588.50" y2="294.2" stroke="#505050" stroke-width="0.9"/><line x1="590.50" y1="279.6" x2="590.50" y2="289.8" stroke="#505050" stroke-width="0.9"/><line x1="592.50" y1="279.6" x2="592.50" y2="289.8" stroke="#505050" stroke-width="0.9"/><line x1="595.50" y1="279.6" x2="595.50" y2="289.8" stroke="#505050" stroke-width="0.9"/><line x1="597.50" y1="279.6" x2="597.50" y2="289.8" stroke="#505050" stroke-width="0.9"/><line x1="599.50" y1="279.6" x2="599.50" y2="292.0" stroke="#505050" stroke-width="0.9"/><line x1="601.50" y1="279.6" x2="601.50" y2="289.8" stroke="#505050" stroke-width="0.9"/><line x1="603.50" y1="279.6" x2="603.50" y2="289.8" stroke="#505050" stroke-width="0.9"/><line x1="605.50" y1="279.6" x2="605.50" y2="289.8" stroke="#505050" stroke-width="0.9"/><line x1="607.50" y1="279.6" x2="607.50" y2="289.8" stroke="#505050" stroke-width="0.9"/><line x1="609.50" y1="279.6" x2="609.50" y2="294.2" stroke="#505050" stroke-width="0.9"/><line x1="611.50" y1="279.6" x2="611.50" y2="289.8" stroke="#505050" stroke-width="0.9"/><line x1="614.50" y1="279.6" x2="614.50" y2="289.8" stroke="#505050" stroke-width="0.9"/><line x1="616.50" y1="279.6" x2="616.50" y2="289.8" stroke="#505050" stroke-width="0.9"/><line x1="618.50" y1="279.6" x2="618.50" y2="289.8" stroke="#505050" stroke-width="0.9"/><line x1="620.50" y1="279.6" x2="620.50" y2="292.0" stroke="#505050" stroke-width="0.9"/><line x1="622.50" y1="279.6" x2="622.50" y2="289.8" stroke="#505050" stroke-width="0.9"/><line x1="624.50" y1="279.6" x2="624.50" y2="289.8" stroke="#505050" stroke-width="0.9"/><line x1="626.50" y1="279.6" x2="626.50" y2="289.8" stroke="#505050" stroke-width="0.9"/><line x1="628.50" y1="279.6" x2="628.50" y2="289.8" stroke="#505050" stroke-width="0.9"/><line x1="630.50" y1="279.6" x2="630.50" y2="294.2" stroke="#505050" stroke-width="0.9"/><line x1="633.50" y1="279.6" x2="633.50" y2="289.8" stroke="#505050" stroke-width="0.9"/><line x1="635.50" y1="279.6" x2="635.50" y2="289.8" stroke="#505050" stroke-width="0.9"/><line x1="637.50" y1="279.6" x2="637.50" y2="289.8" stroke="#505050" stroke-width="0.9"/><line x1="639.50" y1="279.6" x2="639.50" y2="289.8" stroke="#505050" stroke-width="0.9"/><line x1="641.50" y1="279.6" x2="641.50" y2="292.0" stroke="#505050" stroke-width="0.9"/><line x1="643.50" y1="279.6" x2="643.50" y2="289.8" stroke="#505050" stroke-width="0.9"/><line x1="645.50" y1="279.6" x2="645.50" y2="289.8" stroke="#505050" stroke-width="0.9"/><line x1="647.50" y1="279.6" x2="647.50" y2="289.8" stroke="#505050" stroke-width="0.9"/><line x1="650.50" y1="279.6" x2="650.50" y2="289.8" stroke="#505050" stroke-width="0.9"/><line x1="652.50" y1="279.6" x2="652.50" y2="294.2" stroke="#505050" stroke-width="0.9"/><line x1="654.50" y1="279.6" x2="654.50" y2="289.8" stroke="#505050" stroke-width="0.9"/><line x1="656.50" y1="279.6" x2="656.50" y2="289.8" stroke="#505050" stroke-width="0.9"/><line x1="658.50" y1="279.6" x2="658.50" y2="289.8" stroke="#505050" stroke-width="0.9"/><line x1="660.50" y1="279.6" x2="660.50" y2="289.8" stroke="#505050" stroke-width="0.9"/><line x1="662.50" y1="279.6" x2="662.50" y2="292.0" stroke="#505050" stroke-width="0.9"/><line x1="664.50" y1="279.6" x2="664.50" y2="289.8" stroke="#505050" stroke-width="0.9"/><line x1="666.50" y1="279.6" x2="666.50" y2="289.8" stroke="#505050" stroke-width="0.9"/><line x1="669.50" y1="279.6" x2="669.50" y2="289.8" stroke="#505050" stroke-width="0.9"/><line x1="671.50" y1="279.6" x2="671.50" y2="289.8" stroke="#505050" stroke-width="0.9"/><line x1="673.50" y1="279.6" x2="673.50" y2="294.2" stroke="#505050" stroke-width="0.9"/><line x1="675.50" y1="279.6" x2="675.50" y2="289.8" stroke="#505050" stroke-width="0.9"/><line x1="677.50" y1="279.6" x2="677.50" y2="289.8" stroke="#505050" stroke-width="0.9"/><line x1="679.50" y1="279.6" x2="679.50" y2="289.8" stroke="#505050" stroke-width="0.9"/><line x1="681.50" y1="279.6" x2="681.50" y2="289.8" stroke="#505050" stroke-width="0.9"/></g>
<ellipse cx="477" cy="261" rx="5" ry="7" fill="#c8a098" opacity="0.55" filter="url(#blur2)"/>
<g filter="url(#soft)">
<path d="M488.5,241 L493.5,239 L493.5,266 L489,267 Z" fill="#b03a28"/>
<path d="M483.9,232.0 C484.7,232.1 486.1,232.7 486.8,233.8 C487.5,234.8 487.8,236.2 488.3,238.1 C488.7,240.1 489.0,242.8 489.3,245.4 C489.6,248.1 490.0,251.5 490.2,254.2 C490.4,256.9 490.5,259.4 490.4,261.5 C490.4,263.6 490.3,265.4 489.7,266.6 C489.1,267.8 488.0,268.4 486.8,268.8 C485.6,269.2 483.8,269.4 482.4,269.1 C481.1,268.9 479.7,268.4 478.8,267.4 C477.9,266.3 477.4,264.7 477.0,263.0 C476.6,261.3 476.2,259.3 476.1,257.1 C476.1,254.9 476.3,252.3 476.6,249.8 C476.9,247.4 477.4,244.7 478.0,242.5 C478.6,240.3 479.6,238.2 480.2,236.7 C480.8,235.2 481.1,234.3 481.7,233.5 C482.3,232.7 483.0,232.0 483.9,232.0 Z" fill="#cc4430"/>
<path d="M490.4,234.9 C491.1,234.0 493.4,233.6 494.8,233.5 C496.3,233.3 498.1,234.3 499.2,234.1 C500.3,233.9 500.4,232.8 501.4,232.3 C502.4,231.8 503.7,231.4 505.1,231.1 C506.4,230.9 508.1,230.6 509.4,230.8 C510.8,231.0 512.3,231.3 513.1,232.3 C513.9,233.3 514.1,235.2 514.1,236.7 C514.1,238.1 513.6,239.7 513.1,241.1 C512.6,242.4 510.8,244.0 510.9,244.7 C511.0,245.4 512.8,245.1 513.8,245.4 C514.8,245.8 516.2,245.9 516.7,246.9 C517.3,247.9 517.2,249.6 517.0,251.3 C516.9,253.0 516.5,255.3 516.0,257.1 C515.5,259.0 514.7,260.9 513.8,262.2 C513.0,263.6 512.1,264.3 510.9,265.2 C509.7,266.1 508.1,267.0 506.5,267.7 C504.9,268.3 503.0,268.6 501.4,268.8 C499.8,269.0 498.4,269.2 497.0,268.8 C495.7,268.5 494.3,267.7 493.4,266.6 C492.5,265.5 492.0,263.8 491.6,262.2 C491.3,260.7 491.1,258.8 491.2,257.1 C491.2,255.4 491.5,253.7 491.9,252.0 C492.3,250.3 493.2,248.5 493.4,246.9 C493.5,245.3 493.0,243.9 492.6,242.5 C492.3,241.2 491.5,240.1 491.2,238.9 C490.8,237.6 489.8,235.8 490.4,234.9 Z" fill="#d04832"/>
<path d="M490.4,235.2 C490.9,234.0 493.4,233.9 494.8,233.8 C496.3,233.7 498.4,233.8 499.2,234.6 C500.1,235.5 500.2,237.4 499.9,238.9 C499.7,240.3 498.7,242.3 497.8,243.3 C496.8,244.2 495.1,245.1 494.1,244.7 C493.1,244.4 492.5,242.7 491.9,241.1 C491.3,239.5 490.0,236.4 490.4,235.2 Z" fill="#ae3828"/>
<path d="M541.9,234.1 C542.6,233.4 543.2,232.7 544.1,232.3 C544.9,231.9 546.0,231.5 547.0,231.6 C548.0,231.7 549.2,232.4 549.9,233.0 C550.6,233.6 550.6,235.2 551.4,235.2 C552.1,235.2 553.1,233.6 554.3,233.0 C555.5,232.4 557.2,231.9 558.7,231.6 C560.1,231.2 562.0,230.6 563.1,230.8 C564.2,231.1 565.0,232.2 565.2,233.0 C565.5,233.9 564.2,234.9 564.5,236.0 C564.9,237.1 566.5,238.4 567.4,239.6 C568.4,240.8 569.6,241.8 570.4,243.3 C571.1,244.7 571.5,246.5 571.8,248.4 C572.1,250.2 572.2,252.4 572.1,254.2 C572.0,256.0 571.6,257.9 571.1,259.3 C570.6,260.8 569.9,262.0 568.9,263.0 C567.9,264.0 566.5,264.7 565.2,265.2 C564.0,265.7 562.9,265.5 561.6,265.9 C560.3,266.3 558.7,266.9 557.2,267.4 C555.8,267.8 554.3,268.3 552.8,268.8 C551.4,269.3 550.0,270.0 548.4,270.3 C546.9,270.5 544.8,270.6 543.3,270.3 C541.9,269.9 540.7,269.1 539.7,268.1 C538.7,267.1 538.2,265.8 537.5,264.4 C536.8,263.1 535.9,261.8 535.3,260.1 C534.7,258.4 534.4,256.2 534.1,254.2 C533.9,252.3 533.8,250.2 533.8,248.4 C533.9,246.5 534.1,244.8 534.6,243.3 C535.1,241.7 535.9,240.1 536.8,238.9 C537.6,237.7 538.8,236.8 539.7,236.0 C540.5,235.2 541.1,234.7 541.9,234.1 Z" fill="#d64e36"/>
<path d="M584.3,224.6 C585.3,223.8 587.0,223.1 588.6,222.9 C590.1,222.7 592.2,222.9 593.7,223.4 C595.1,224.0 596.3,225.1 597.0,226.3 C597.8,227.5 598.1,228.4 598.2,230.6 C598.4,232.7 598.0,235.7 597.9,239.0 C597.8,242.4 597.5,247.2 597.6,250.9 C597.6,254.6 598.2,258.4 598.4,261.1 C598.6,263.8 599.4,266.0 598.7,267.0 C598.1,268.1 596.2,267.7 594.5,267.5 C592.8,267.4 590.4,266.8 588.6,266.2 C586.7,265.5 584.8,264.9 583.5,263.6 C582.2,262.4 581.6,260.7 580.9,258.5 C580.3,256.4 579.9,253.6 579.7,250.9 C579.6,248.2 579.8,245.3 580.1,242.4 C580.4,239.6 581.0,236.4 581.4,234.0 C581.9,231.6 582.2,229.6 582.6,228.0 C583.1,226.5 583.3,225.5 584.3,224.6 Z" fill="#b63f2c"/>
<path d="M600.4,226.3 C601.1,225.8 601.7,225.1 603.0,224.6 C604.3,224.2 606.2,223.4 608.1,223.4 C609.9,223.5 612.3,224.1 614.0,225.1 C615.7,226.2 617.2,228.0 618.2,229.7 C619.3,231.5 619.8,233.3 620.4,235.7 C621.1,238.1 621.9,241.0 622.1,244.1 C622.3,247.2 621.9,251.2 621.6,254.3 C621.4,257.4 621.4,260.5 620.8,262.8 C620.2,265.0 619.7,266.7 618.2,267.9 C616.8,269.0 614.3,269.2 612.3,269.6 C610.3,269.9 608.2,270.0 606.4,269.9 C604.5,269.8 602.5,269.6 601.3,268.7 C600.1,267.8 599.7,266.9 599.2,264.5 C598.8,262.1 598.9,258.0 598.7,254.3 C598.6,250.6 598.5,246.1 598.4,242.4 C598.3,238.8 598.2,234.7 598.2,232.3 C598.3,229.9 598.4,229.0 598.7,228.0 C599.1,227.0 599.7,226.9 600.4,226.3 Z" fill="#bc432e"/>
<path d="M645.6,224.0 C646.5,223.4 647.8,222.4 649.1,222.3 C650.4,222.1 652.2,222.6 653.5,223.2 C654.8,223.7 656.0,224.9 657.0,225.8 C658.0,226.7 658.6,228.1 659.6,228.4 C660.7,228.8 661.8,227.7 663.1,227.9 C664.5,228.0 666.2,228.6 667.5,229.3 C668.9,230.0 670.2,230.5 671.1,231.9 C671.9,233.4 672.3,235.9 672.8,238.1 C673.3,240.3 673.5,242.8 674.0,245.1 C674.5,247.5 675.6,249.8 675.8,252.1 C676.0,254.5 675.6,257.1 675.1,259.2 C674.6,261.2 673.9,263.0 672.8,264.5 C671.7,265.9 670.0,267.1 668.4,268.0 C666.8,268.8 664.8,269.1 663.1,269.7 C661.5,270.3 659.9,270.8 658.8,271.5 C657.6,272.1 656.9,273.9 656.1,273.6 C655.4,273.3 655.5,270.5 654.4,269.7 C653.2,268.9 650.8,269.3 649.1,268.8 C647.3,268.4 645.6,268.1 643.8,267.1 C642.1,266.1 640.0,264.5 638.5,262.7 C637.1,260.9 636.1,258.9 635.4,256.5 C634.6,254.2 634.3,251.1 634.2,248.6 C634.0,246.1 634.2,243.9 634.7,241.6 C635.1,239.3 635.9,236.6 636.8,234.6 C637.7,232.5 639.1,230.8 640.3,229.3 C641.5,227.8 642.9,226.7 643.8,225.8 C644.7,224.9 644.7,224.6 645.6,224.0 Z" fill="#dc5a40"/>
<ellipse cx="484" cy="250" rx="2.5" ry="7" fill="#d6604a" opacity="0.55"/>
<ellipse cx="507" cy="238" rx="4" ry="3" fill="#d85c45" opacity="0.5"/>
<ellipse cx="506" cy="258" rx="5" ry="5" fill="#d8604a" opacity="0.45"/>
<ellipse cx="500" cy="262" rx="2" ry="2" fill="#e8a090" opacity="0.5"/>
<ellipse cx="548" cy="247" rx="5" ry="5" fill="#dd6c52" opacity="0.5"/>
<ellipse cx="560" cy="256" rx="5" ry="5" fill="#c44a33" opacity="0.5"/>
<ellipse cx="556" cy="250" rx="3" ry="3" fill="#a83a28" opacity="0.55"/>
<ellipse cx="545" cy="238" rx="3" ry="3" fill="#e0785e" opacity="0.5"/>
<ellipse cx="566" cy="245" rx="3" ry="5" fill="#dc6a50" opacity="0.45"/>
<ellipse cx="588" cy="248" rx="3" ry="9" fill="#c45440" opacity="0.5"/>
<ellipse cx="610" cy="247" rx="4" ry="10" fill="#c4503c" opacity="0.45"/>
<ellipse cx="605" cy="232" rx="2" ry="2" fill="#e0a090" opacity="0.6"/>
<ellipse cx="589" cy="252" rx="1.5" ry="3" fill="#e0a090" opacity="0.45"/>
<ellipse cx="643" cy="250" rx="5" ry="9" fill="#e4725a" opacity="0.55"/>
<ellipse cx="666" cy="252" rx="4" ry="9" fill="#d45840" opacity="0.45"/>
<ellipse cx="660" cy="240" rx="3" ry="5" fill="#a83626" opacity="0.55"/>
<ellipse cx="640" cy="243" rx="1.5" ry="1.2" fill="#f0c0b0" opacity="0.6"/>
<path d="M598.4,232 C598.7,245 598.4,255 599.2,268" stroke="#7a2418" stroke-width="1.4" fill="none"/>
<path d="M655,244 C654,252 655.5,262 656,271" stroke="#952c1c" stroke-width="1.2" fill="none"/>
<path d="M491.5,240 C492,248 491.5,258 492.5,266" stroke="#a23424" stroke-width="0.9" fill="none"/>
</g>
</g>
</svg>
</body></html>
